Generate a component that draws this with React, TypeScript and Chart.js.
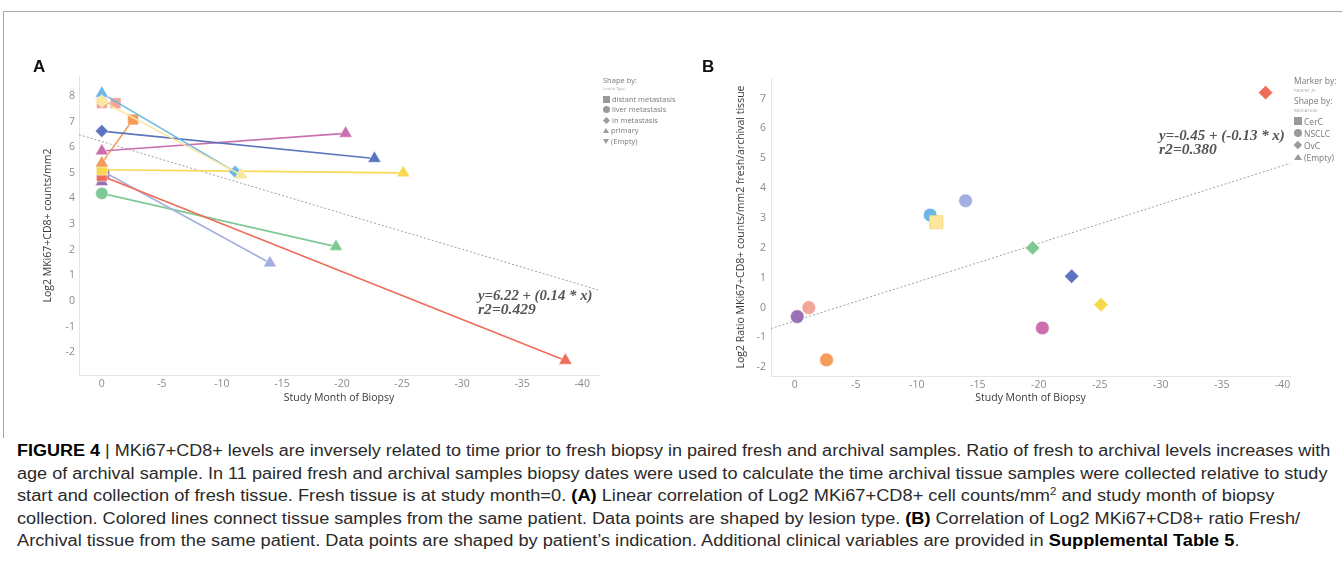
import React, { useEffect, useLayoutEffect, useRef, useState } from "react";
import { Chart, registerables } from "chart.js";
Chart.register(...registerables);

// ---------- data (11 patients, fresh vs archival) ----------
const PATIENT_COLORS = ["#7fca94", "#9b70b6", "#a3afdf", "#ef6c58", "#f8d84c", "#f59c5b", "#cb6fae", "#5a75bd", "#f3a697", "#6db7e5", "#fbe79c"];
const FRESH_MONTH = [0, 0, 0, 0, 0, 0, 0, 0, 0, 0, 0];
const FRESH_LOG2 = [4.2, 4.65, 5.08, 4.88, 5.12, 5.38, 5.85, 6.63, 7.72, 8.1, 7.8];
const FRESH_LESION = ["liver metastasis", "primary", "distant metastasis", "distant metastasis", "distant metastasis", "primary", "primary", "ln metastasis", "distant metastasis", "primary", "ln metastasis"];
const ARCHIVAL_MONTH = [-19.5, -0.2, -14.0, -38.6, -25.1, -2.6, -20.3, -22.7, -1.15, -11.1, -11.6];
const ARCHIVAL_LOG2 = [2.12, 4.95, 1.48, -2.32, 5.0, 7.08, 6.54, 5.56, 7.72, 5.04, 4.92];
const ARCHIVAL_LESION = ["primary", "distant metastasis", "primary", "primary", "primary", "distant metastasis", "primary", "primary", "distant metastasis", "ln metastasis", "primary"];
const RATIO_LOG2 = [2.0, -0.3, 3.58, 7.2, 0.1, -1.75, -0.68, 1.05, 0.0, 3.1, 2.86];
const INDICATION = ["OvC", "NSCLC", "NSCLC", "OvC", "OvC", "NSCLC", "NSCLC", "OvC", "NSCLC", "NSCLC", "CerC"];

const TREND_A_X = [1.9, -41.4];
const TREND_A_Y = [6.49, 0.42];
const TREND_B_X = [1.95, -40.6];
const TREND_B_Y = [-0.7, 4.83];

const X_TICKS = [0, -5, -10, -15, -20, -25, -30, -35, -40];
const Y_TICKS_A = [-2, -1, 0, 1, 2, 3, 4, 5, 6, 7, 8];
const Y_TICKS_B = [-2, -1, 0, 1, 2, 3, 4, 5, 6, 7];

const LESION_TYPES = ["distant metastasis", "liver metastasis", "ln metastasis", "primary", "(Empty)"];
const INDICATIONS = ["CerC", "NSCLC", "OvC", "(Empty)"];

const EQ_A = ["y=6.22 + (0.14 * x)", "r2=0.429"];
const EQ_B = ["y=-0.45 + (-0.13 * x)", "r2=0.380"];

// ---------- styling helpers ----------
const SHAPE_OF: Record<string, string> = {
  "distant metastasis": "rect",
  "liver metastasis": "circle",
  "ln metastasis": "rectRot",
  primary: "triangle",
  "(Empty)": "triangleDown",
  CerC: "rect",
  NSCLC: "circle",
  OvC: "rectRot",
};
const RADIUS_A: Record<string, number> = { rect: 7.6, circle: 6.2, rectRot: 6.5, triangle: 7.6 };
const RADIUS_B: Record<string, number> = { rect: 9.4, circle: 6.8, rectRot: 7.2, triangle: 7.6 };

const TICK_FONT = { family: "'Open Sans', 'Noto Sans', sans-serif", size: 10.5 };
const TITLE_FONT = { family: "'Open Sans', 'Noto Sans', sans-serif", size: 10.5 };

function fixedTicks(values: number[]) {
  return (scale: any) => {
    scale.ticks = values.map((v) => ({ value: v }));
  };
}

function makeScales(opts: {
  xMin: number; xMax: number; yMin: number; yMax: number; yTicks: number[];
  yWidth: number; yTitle: string; yTitlePad: number; yTickPad: number; xHeight: number;
}) {
  return {
    x: {
      type: "linear" as const,
      reverse: true,
      min: opts.xMin,
      max: opts.xMax,
      afterBuildTicks: fixedTicks(X_TICKS),
      afterFit: (s: any) => { s.height = opts.xHeight; },
      grid: { display: false, drawTicks: false },
      border: { display: true, color: "#e4e4e4", width: 1 },
      ticks: { padding: 3, color: "#8a8a8a", font: TICK_FONT, maxRotation: 0, autoSkip: false },
      title: { display: true, text: "Study Month of Biopsy", color: "#3a3a3a", font: TITLE_FONT, padding: { top: 0, bottom: 5.4 } },
    },
    y: {
      type: "linear" as const,
      min: opts.yMin,
      max: opts.yMax,
      afterBuildTicks: fixedTicks(opts.yTicks),
      afterFit: (s: any) => { s.width = opts.yWidth; },
      grid: { display: false, drawTicks: false },
      border: { display: true, color: "#e4e4e4", width: 1 },
      ticks: { padding: opts.yTickPad, color: "#8a8a8a", font: TICK_FONT, autoSkip: false },
      title: { display: true, text: opts.yTitle, color: "#3a3a3a", font: TITLE_FONT, padding: { top: opts.yTitlePad, bottom: 0 } },
    },
  };
}

function trendDataset(xs: number[], ys: number[]) {
  return {
    data: xs.map((x, i) => ({ x, y: ys[i] })),
    showLine: true,
    borderColor: "#a0a0a0",
    borderWidth: 1,
    borderDash: [2, 2],
    pointRadius: 0,
    order: 100,
  };
}

function ChartA() {
  const ref = useRef<HTMLCanvasElement>(null);
  useEffect(() => {
    const datasets: any[] = [trendDataset(TREND_A_X, TREND_A_Y)];
    PATIENT_COLORS.forEach((c, i) => {
      const s0 = SHAPE_OF[FRESH_LESION[i]];
      const s1 = SHAPE_OF[ARCHIVAL_LESION[i]];
      datasets.push({
        data: [
          { x: FRESH_MONTH[i], y: FRESH_LOG2[i] },
          { x: ARCHIVAL_MONTH[i], y: ARCHIVAL_LOG2[i] },
        ],
        showLine: true,
        borderColor: c,
        borderWidth: 1.6,
        backgroundColor: c,
        pointStyle: [s0, s1],
        pointRadius: [RADIUS_A[s0], RADIUS_A[s1]],
        pointBackgroundColor: c,
        pointBorderColor: "rgba(255,255,255,0.6)",
        pointBorderWidth: 0.8,
        order: 50 - i,
      });
    });
    const chart = new Chart(ref.current!, {
      type: "scatter",
      data: { datasets },
      options: {
        animation: false,
        responsive: false,
        devicePixelRatio: 1,
        layout: { padding: { left: 0, right: 101, top: 76, bottom: 0 } },
        plugins: { legend: { display: false }, tooltip: { enabled: false } },
        scales: makeScales({
          xMin: -41.4, xMax: 1.9, yMin: -2.89, yMax: 8.78, yTicks: Y_TICKS_A,
          yWidth: 79, yTitle: "Log2 MKi67+CD8+ counts/mm2", yTitlePad: 41.4, yTickPad: 4, xHeight: 35,
        }) as any,
      },
    });
    return () => chart.destroy();
  }, []);
  return <canvas ref={ref} width={700} height={410} style={{ position: "absolute", left: 0, top: 0, width: 700, height: 410 }} />;
}

function ChartB() {
  const ref = useRef<HTMLCanvasElement>(null);
  useEffect(() => {
    const datasets: any[] = [trendDataset(TREND_B_X, TREND_B_Y)];
    PATIENT_COLORS.forEach((c, i) => {
      const s = SHAPE_OF[INDICATION[i]];
      datasets.push({
        data: [{ x: ARCHIVAL_MONTH[i], y: RATIO_LOG2[i] }],
        pointStyle: s,
        pointRadius: RADIUS_B[s],
        pointBackgroundColor: c,
        pointBorderColor: s === "rect" ? "rgba(240,215,120,0.9)" : "rgba(255,255,255,0.6)",
        pointBorderWidth: 0.8,
        order: 50 - i,
      });
    });
    const chart = new Chart(ref.current!, {
      type: "scatter",
      data: { datasets },
      options: {
        animation: false,
        responsive: false,
        devicePixelRatio: 1,
        layout: { padding: { left: 0, right: 52, top: 78, bottom: 0 } },
        plugins: { legend: { display: false }, tooltip: { enabled: false } },
        scales: makeScales({
          xMin: -40.6, xMax: 1.95, yMin: -2.29, yMax: 7.69, yTicks: Y_TICKS_B,
          yWidth: 71, yTitle: "Log2 Ratio MKi67+CD8+ counts/mm2 fresh/archival tissue", yTitlePad: 35, yTickPad: 5, xHeight: 34,
        }) as any,
      },
    });
    return () => chart.destroy();
  }, []);
  return <canvas ref={ref} width={642} height={410} style={{ position: "absolute", left: 700, top: 0, width: 642, height: 410 }} />;
}

// ---------- text helpers ----------
function Fit({ width, style, children }: { width: number; style?: React.CSSProperties; children: React.ReactNode }) {
  const ref = useRef<HTMLSpanElement>(null);
  const [s, setS] = useState(1);
  useLayoutEffect(() => {
    const measure = () => {
      if (ref.current) {
        const nat = ref.current.offsetWidth;
        if (nat > 0) setS(width / nat);
      }
    };
    measure();
    (document as any).fonts?.ready?.then(measure);
  }, [width]);
  return (
    <span
      ref={ref}
      style={{ display: "inline-block", whiteSpace: "nowrap", transformOrigin: "0 50%", transform: `scaleX(${s})`, ...style }}
    >
      {children}
    </span>
  );
}

function Shape({ kind, size, color }: { kind: string; size: number; color: string }) {
  const base: React.CSSProperties = { display: "inline-block", flex: "0 0 auto" };
  if (kind === "rect") return <span style={{ ...base, width: size, height: size, background: color }} />;
  if (kind === "circle") return <span style={{ ...base, width: size, height: size, background: color, borderRadius: "50%" }} />;
  if (kind === "rectRot")
    return (
      <span style={{ ...base, width: size, height: size, display: "inline-flex", alignItems: "center", justifyContent: "center" }}>
        <span style={{ width: size * 0.7, height: size * 0.7, background: color, transform: "rotate(45deg)" }} />
      </span>
    );
  if (kind === "triangle")
    return <span style={{ ...base, width: 0, height: 0, borderLeft: `${size / 2}px solid transparent`, borderRight: `${size / 2}px solid transparent`, borderBottom: `${size * 0.85}px solid ${color}` }} />;
  return <span style={{ ...base, width: 0, height: 0, borderLeft: `${size / 2}px solid transparent`, borderRight: `${size / 2}px solid transparent`, borderTop: `${size * 0.85}px solid ${color}` }} />;
}

const LEG_FONT = "'Open Sans', 'Noto Sans', sans-serif";

function LegendRow({ x, y, label, kind, size, fontSize }: { x: number; y: number; label: string; kind: string; size: number; fontSize: number }) {
  return (
    <div style={{ position: "absolute", left: x, top: y - 6, height: 12, display: "flex", alignItems: "center", gap: 2, fontFamily: LEG_FONT, fontSize, color: "#7a7a7a", whiteSpace: "nowrap" }}>
      <Shape kind={kind} size={size} color="#9a9a9a" />
      <span>{label}</span>
    </div>
  );
}

function Label({ x, y, text, size, color, tiny }: { x: number; y: number; text: string; size: number; color: string; tiny?: boolean }) {
  return (
    <div style={{ position: "absolute", left: x, top: y - 6, height: 12, lineHeight: "12px", fontFamily: LEG_FONT, fontSize: size, color, whiteSpace: "nowrap", transformOrigin: "0 50%", transform: tiny ? "scale(0.5)" : undefined }}>
      {text}
    </div>
  );
}

function Equation({ x, y, lines, widths }: { x: number; y: number; lines: string[]; widths: number[] }) {
  return (
    <>
      {lines.map((t, i) => (
        <div key={i} style={{ position: "absolute", left: x, top: y + i * 13.5 - 8, height: 16, lineHeight: "16px", fontFamily: "'Liberation Serif', 'DejaVu Serif', serif", fontStyle: "italic", fontWeight: 700, fontSize: 14, color: "#555" }}>
          <Fit width={widths[i]}>{t}</Fit>
        </div>
      ))}
    </>
  );
}

const CAPTION_FONT = "'Liberation Sans Narrow', 'Liberation Sans', Arial, sans-serif";
const B: React.CSSProperties = { fontFamily: "'Liberation Sans', Arial, sans-serif", fontWeight: 700, color: "#000" };

const CAPTION_LINES: { w: number; y: number; content: React.ReactNode }[] = [
  { w: 1313, y: 451, content: (<><span style={B}>FIGURE 4</span> | MKi67+CD8+ levels are inversely related to time prior to fresh biopsy in paired fresh and archival samples. Ratio of fresh to archival levels increases with</>) },
  { w: 1310, y: 474, content: (<>age of archival sample. In 11 paired fresh and archival samples biopsy dates were used to calculate the time archival tissue samples were collected relative to study</>) },
  { w: 1258, y: 496, content: (<>start and collection of fresh tissue. Fresh tissue is at study month=0. <span style={B}>(A)</span> Linear correlation of Log2 MKi67+CD8+ cell counts/mm<sup style={{ fontSize: 10, verticalAlign: "6px", lineHeight: 0 }}>2</sup> and study month of biopsy</>) },
  { w: 1283, y: 519, content: (<>collection. Colored lines connect tissue samples from the same patient. Data points are shaped by lesion type. <span style={B}>(B)</span> Correlation of Log2 MKi67+CD8+ ratio Fresh/</>) },
  { w: 1223, y: 541, content: (<>Archival tissue from the same patient. Data points are shaped by patient’s indication. Additional clinical variables are provided in <span style={B}>Supplemental Table 5</span>.</>) },
];

export default function App() {
  return (
    <div style={{ position: "absolute", left: 0, top: 0, width: 1342, height: 571, background: "#fff", overflow: "hidden" }}>
      <div style={{ position: "absolute", left: 3, top: 11, width: 1339, height: 426, borderTop: "1px solid #a8a8a8", borderLeft: "1px solid #a8a8a8" }} />
      <ChartA />
      <ChartB />
      <div style={{ position: "absolute", left: 33, top: 57, fontFamily: "'Liberation Sans', Arial, sans-serif", fontWeight: 700, fontSize: 17, color: "#111" }}>A</div>
      <div style={{ position: "absolute", left: 702, top: 57, fontFamily: "'Liberation Sans', Arial, sans-serif", fontWeight: 700, fontSize: 17, color: "#111" }}>B</div>

      {/* legend A */}
      <Label x={603} y={80} text="Shape by:" size={7.5} color="#7a7a7a" />
      <Label x={603} y={88} text="Lesion Type" size={8} color="#a0a0a0" tiny />
      {LESION_TYPES.map((t, i) => (
        <LegendRow key={t} x={603} y={[99, 109, 120, 130, 141][i]} label={t} kind={SHAPE_OF[t]} size={7} fontSize={7.5} />
      ))}

      {/* legend B */}
      <Label x={1294} y={81} text="Marker by:" size={8.5} color="#7a7a7a" />
      <Label x={1294} y={90} text="PATIENT_ID" size={8} color="#a0a0a0" tiny />
      <Label x={1294} y={101} text="Shape by:" size={8.5} color="#7a7a7a" />
      <Label x={1294} y={110} text="INDICATION" size={8} color="#a0a0a0" tiny />
      {INDICATIONS.map((t, i) => (
        <LegendRow key={t} x={1294} y={[121, 133, 145, 157][i]} label={t} kind={t === "(Empty)" ? "triangle" : SHAPE_OF[t]} size={8} fontSize={8.5} />
      ))}

      <Equation x={478} y={296} lines={EQ_A} widths={[115, 58]} />
      <Equation x={1159} y={136} lines={EQ_B} widths={[126, 58]} />

      {CAPTION_LINES.map((l, i) => (
        <div key={i} style={{ position: "absolute", left: 17, top: l.y - 11, height: 22, lineHeight: "22px", fontFamily: CAPTION_FONT, fontSize: 16, color: "#2a2a2a" }}>
          <Fit width={l.w}>{l.content}</Fit>
        </div>
      ))}
    </div>
  );
}
